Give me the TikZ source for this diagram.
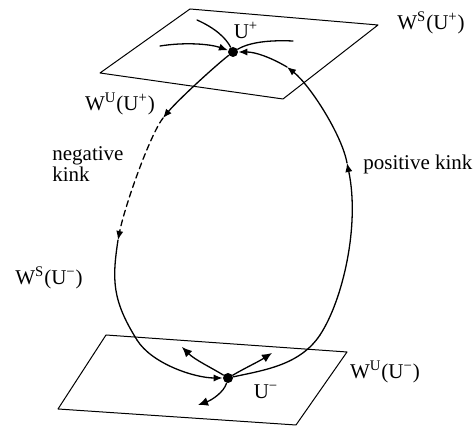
\documentclass[tikz,border=0pt]{standalone}
\usepackage{fontspec}
\setmainfont{Liberation Serif}
\usetikzlibrary{arrows.meta}

\begin{document}
\begin{tikzpicture}[x=0.5pt, y=-0.5pt, line cap=round, line join=round,
  font=\fontsize{10.5}{9}\selectfont,
  plane/.style={line width=0.5pt},
  orbit/.style={line width=0.65pt},
  fixpt/.style={circle, fill, inner sep=0pt, minimum size=5pt},
  tip/.style={-{Latex[length=4.5pt,width=3.6pt]}},
  bigtip/.style={-{Latex[length=5pt,width=4.4pt]}},
  lbl/.style={inner sep=0pt}]
  \useasboundingbox (0,0) rectangle (473,426);

  % --- the two planes ---
  \draw[plane] (100,73) -- (190,9) -- (378,25) -- (283,99) -- cycle;
  \draw[plane] (106,335) -- (347,352) -- (296,425) -- (58,409) -- cycle;

  % --- fixed points ---
  \node[fixpt] (uplus) at (233,52) {};
  \node[fixpt] (uminus) at (228,378) {};

  % points on the orbit where the arrows sit
  \coordinate (wudown) at (163,118);
  \coordinate (negend) at (118,240);
  \coordinate (lowleft) at (137,340);
  \coordinate (lowright) at (320,335);
  \coordinate (posup) at (347,163);
  \coordinate (wsin) at (287,67);

  % free ends of the short in-plane curves
  \coordinate (inA) at (197,20);
  \coordinate (inB) at (160,46);
  \coordinate (inC) at (293,41);
  \coordinate (outA) at (182,347);
  \coordinate (outB) at (272,353);
  \coordinate (outC) at (198,405);

  % --- negative kink (left branch) ---
  \draw[orbit, tip] (uplus) .. controls (215,66) and (178,100) .. (wudown);
  \draw[orbit, tip, dash pattern=on 3pt off 2pt]
    (wudown) .. controls (150,135) and (125,205) .. (negend);
  \draw[orbit] (negend) .. controls (112,280) and (112,300) .. (lowleft);
  \draw[orbit, tip] (lowleft) .. controls (152,364) and (195,378) .. (uminus);

  % --- positive kink (right branch) ---
  \draw[orbit] (uminus) .. controls (265,370) and (300,365) .. (lowright);
  \draw[orbit, tip] (lowright) .. controls (343,300) and (360,225) .. (posup);
  \draw[orbit, tip] (posup) .. controls (342,135) and (310,85) .. (wsin);
  \draw[orbit, tip] (wsin) .. controls (270,57) and (255,52) .. (uplus);

  % --- stable directions at U+ ---
  \draw[orbit] (inA) .. controls (215,28) and (226,38) .. (uplus);
  \draw[orbit, tip] (inB) .. controls (185,42) and (210,44) .. (uplus);
  \draw[orbit] (inC) .. controls (270,40) and (250,42) .. (uplus);

  % --- unstable directions at U- ---
  \draw[orbit, bigtip] (uminus) .. controls (212,368) and (195,360) .. (outA);
  \draw[orbit, bigtip] (uminus) .. controls (245,368) and (258,362) .. (outB);
  \draw[orbit, bigtip] (uminus) .. controls (224,392) and (212,400) .. (outC);

  % --- labels ---
  \node[lbl] (wsplus) at (431,23) {W\textsuperscript{S}(U\textsuperscript{+})};
  \node[lbl] (uplbl) at (246,30) {U\textsuperscript{+}};
  \node[lbl] (wuplus) at (120,104) {W\textsuperscript{U}(U\textsuperscript{+})};
  \node[lbl, align=left, anchor=west] (negk) at (52,164) {negative\\kink};
  \node[lbl, anchor=west] (posk) at (363,164) {positive kink};
  \node[lbl] (wsminus) at (49,278) {W\textsuperscript{S}(U\textsuperscript{−})};
  \node[lbl] (wuminus) at (385,372) {W\textsuperscript{U}(U\textsuperscript{−})};
  \node[lbl] (umlbl) at (266,392) {U\textsuperscript{−}};
\end{tikzpicture}
\end{document}
